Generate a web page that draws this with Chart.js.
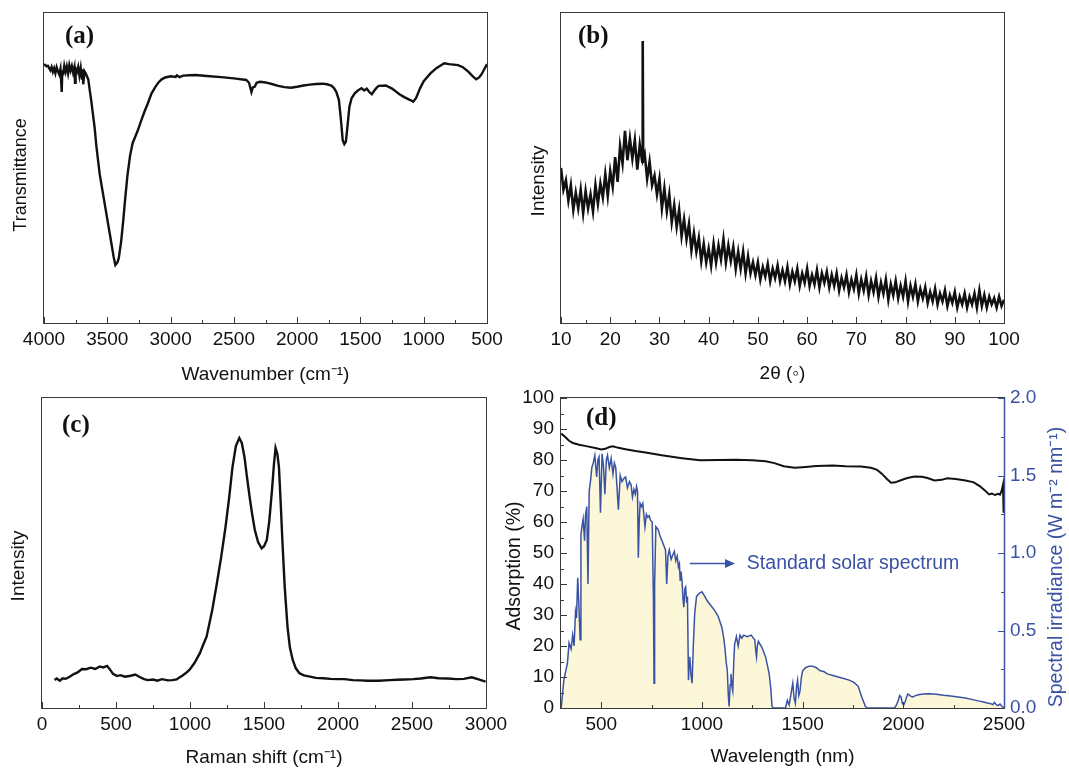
<!DOCTYPE html>
<html>
<head>
<meta charset="utf-8">
<title>FTIR / XRD / Raman / Absorption</title>
<script src="https://cdn.jsdelivr.net/npm/chart.js@4.4.1/dist/chart.umd.min.js"></script>
<style>
  html, body { margin: 0; padding: 0; background: #fff; }
  #wrap { position: relative; width: 1069px; height: 769px; }
  #wrap canvas { position: absolute; left: 0; top: 0; }
</style>
</head>
<body>
<div id="wrap">
  <canvas id="ftirChart" width="1069" height="769"></canvas>
  <canvas id="xrdChart" width="1069" height="769"></canvas>
  <canvas id="ramanChart" width="1069" height="769"></canvas>
  <canvas id="absChart" width="1069" height="769"></canvas>
</div>
<script>
// (a) FTIR
const ftirWavenumber = [
  4000, 3990, 3980, 3970, 3960, 3950, 3940, 3930, 3920, 3910,
  3900, 3890, 3880, 3870, 3860, 3855, 3850, 3840, 3830, 3820,
  3810, 3800, 3790, 3780, 3770, 3760, 3755, 3750, 3740, 3730,
  3720, 3710, 3700, 3695, 3690, 3680, 3670, 3660, 3650, 3640,
  3626, 3600, 3586, 3560, 3531, 3500, 3477, 3450, 3436, 3420,
  3409, 3390, 3374, 3360, 3341, 3320, 3300, 3280, 3260, 3230,
  3205, 3180, 3151, 3120, 3096, 3070, 3042, 3000, 2960, 2950,
  2930, 2900, 2850, 2800, 2715, 2600, 2500, 2402, 2380, 2361,
  2350, 2334, 2320, 2294, 2250, 2200, 2150, 2100, 2050, 2000,
  1950, 1900, 1850, 1800, 1764, 1730, 1709, 1690, 1670, 1655,
  1640, 1627, 1615, 1606, 1595, 1587, 1570, 1545, 1520, 1491,
  1470, 1450, 1430, 1410, 1390, 1370, 1355, 1300, 1250, 1192,
  1150, 1110, 1083, 1060, 1029, 1000, 947, 900, 838, 800,
  729, 690, 648, 610, 585, 560, 539, 520, 500
];
const ftirTransmittance = [
  83.5, 83.2, 82.8, 83, 82.3, 81.5, 82.6, 81, 82.2, 80.6,
  82.5, 81.2, 80.2, 82, 74.5, 81.5, 80, 83, 81, 82.8,
  80.5, 83.2, 81.4, 82.9, 80.8, 82.5, 77.5, 82, 81, 82.6,
  79.8, 82.3, 78.5, 81.8, 77, 81.2, 80.5, 79.5, 78.5, 75.5,
  71.5, 63, 57, 48, 41, 33.5, 28, 21.4, 18.7, 19.5,
  21, 26.5, 33, 39.5, 47.5, 54, 58, 60, 62, 65.5,
  68.3, 70.8, 74, 76.2, 77.6, 78.6, 79.2, 79.6, 79.4, 79.9,
  79.3, 79.8, 79.9, 80, 79.7, 79.3, 78.9, 78.4, 77.5, 74.5,
  76, 76.3, 77.5, 77.8, 77.6, 77.1, 76.5, 76.1, 75.9, 76.2,
  76.6, 76.9, 77.1, 77.2, 77.0, 76.6, 75.8, 74.5, 71.9, 66,
  59, 57.7, 58.5, 62, 66.5, 69.8, 72.5, 74.1, 75, 75.7,
  75, 75.6, 74.5, 73.8, 75, 76, 76.5, 76.6, 75.6, 73.8,
  72.8, 72, 71.4, 72.6, 75.7, 78, 80.5, 82.2, 83.8, 83.5,
  83.2, 82.5, 81.1, 79.5, 78.6, 79.3, 80.5, 82, 83.5
];
const ftirTicks = [4000, 3500, 3000, 2500, 2000, 1500, 1000, 500];
const ftirMinor = [3750, 3250, 2750, 2250, 1750, 1250, 750];

// (b) XRD
const xrdAngle = [
  10, 10.5, 11, 11.5, 12, 12.5, 13, 13.5, 14, 14.5,
  15, 15.5, 16, 16.5, 17, 17.5, 18, 18.5, 19, 19.5,
  20, 20.5, 21, 21.5, 22, 22.5, 23, 23.5, 24, 24.5,
  25, 25.5, 26, 26.5, 26.6, 26.7, 27, 27.5, 28, 28.5, 29, 29.5,
  30, 30.5, 31, 31.5, 32, 32.5, 33, 33.5, 34, 34.5,
  35, 35.5, 36, 36.5, 37, 37.5, 38, 38.5, 39, 39.5,
  40, 40.5, 41, 41.5, 42, 42.5, 43, 43.5, 44, 44.5,
  45, 45.5, 46, 46.5, 47, 47.5, 48, 48.5, 49, 49.5,
  50, 50.5, 51, 51.5, 52, 52.5, 53, 53.5, 54, 54.5,
  55, 55.5, 56, 56.5, 57, 57.5, 58, 58.5, 59, 59.5,
  60, 60.5, 61, 61.5, 62, 62.5, 63, 63.5, 64, 64.5,
  65, 65.5, 66, 66.5, 67, 67.5, 68, 68.5, 69, 69.5,
  70, 70.5, 71, 71.5, 72, 72.5, 73, 73.5, 74, 74.5,
  75, 75.5, 76, 76.5, 77, 77.5, 78, 78.5, 79, 79.5,
  80, 80.5, 81, 81.5, 82, 82.5, 83, 83.5, 84, 84.5,
  85, 85.5, 86, 86.5, 87, 87.5, 88, 88.5, 89, 89.5,
  90, 90.5, 91, 91.5, 92, 92.5, 93, 93.5, 94, 94.5,
  95, 95.5, 96, 96.5, 97, 97.5, 98, 98.5, 99, 99.5, 100
];
const xrdIntensity = [
  50, 43, 46, 39.5, 44.5, 36.5, 42, 37, 43, 35.5,
  42.5, 37, 41.5, 36, 44.5, 38.5, 45, 40.5, 48, 41,
  49, 44, 53.5, 45.5, 57, 51.5, 62, 52.5, 59.5, 53,
  59, 49.5, 57.5, 52, 91, 53, 54.5, 46.5, 52, 44.5, 47.5, 41.5,
  46.5, 37, 43.5, 36, 41.5, 32.5, 38, 31, 36.5, 28,
  33.5, 27, 32, 23.5, 29, 23, 27.5, 20, 25.5, 19.5,
  24, 18.5, 25.5, 19.5, 25, 20.5, 27, 19.5, 25, 20,
  24.5, 17.5, 23, 17.5, 23, 16, 21.5, 16, 19.5, 15.5,
  19.5, 14, 18, 15, 19, 13.5, 17.5, 14.5, 18.5, 13.5,
  17, 13.5, 18, 12.5, 16.5, 13.5, 17.5, 12, 16, 13,
  17.5, 12, 15.5, 12.5, 17, 11.5, 16, 13, 16.5, 11.5,
  15.5, 12, 16, 10.5, 14.5, 11.5, 15.5, 10, 14, 11,
  15.5, 9.5, 14, 10.5, 15, 9, 13.5, 10, 14.5, 8.5,
  13, 9.5, 14, 7.5, 12.5, 9, 13.5, 8, 12, 8.5,
  13.5, 7, 12, 8.5, 12.5, 7, 11, 8, 11.5, 6.5,
  10, 7, 11, 6, 9.5, 7, 10.5, 5.5, 9, 6.5,
  10, 5, 8.5, 6, 9.5, 5, 8.5, 6, 9.5, 5,
  10.5, 5.5, 9, 5, 8.5, 6, 8, 5, 8.5, 5.5, 7.5
];
const xrdTicks = [10, 20, 30, 40, 50, 60, 70, 80, 90, 100];
const xrdMinor = [15, 25, 35, 45, 55, 65, 75, 85, 95];

// (c) Raman
const ramanShift = [
  85, 100, 120, 140, 160, 184, 210, 240, 270, 298,
  330, 360, 390, 414, 440, 461, 480, 507, 530, 560,
  600, 630, 660, 690, 716, 750, 780, 810, 850, 880,
  910, 926, 950, 970, 996, 1030, 1066, 1090, 1112, 1150,
  1182, 1210, 1240, 1265, 1287, 1310, 1333, 1350, 1368, 1385,
  1403, 1420, 1438, 1460, 1484, 1500, 1519, 1535, 1554, 1567,
  1578, 1590, 1601, 1612, 1624, 1640, 1659, 1675, 1694, 1715,
  1740, 1770, 1811, 1850, 1900, 1950, 2000, 2043, 2100, 2150,
  2200, 2276, 2350, 2400, 2450, 2508, 2560, 2624, 2680, 2740,
  2800, 2850, 2904, 2950, 2997
];
const ramanIntensity = [
  9.0, 9.5, 8.8, 9.6, 9.4, 10.0, 10.8, 11.5, 12.6, 12.5,
  13.0, 12.6, 13.4, 13.1, 13.6, 12.3, 11.0, 10.3, 10.6, 10.1,
  10.4, 10.8, 10.0, 9.3, 9.0, 9.2, 8.8, 9.3, 8.9, 9.0,
  9.2, 9.8, 10.5, 11.2, 12.3, 14.5, 17.6, 20.5, 23.0, 31.5,
  40.3, 48.5, 58.4, 68, 77.7, 84.5, 87.1, 85.5, 81, 74.5,
  68, 62.5, 57.4, 53.5, 51.5, 52.2, 54.2, 60, 70.3, 78.5,
  83.9, 82, 77.7, 67, 54.2, 39, 26.1, 19.5, 15.5, 12.8,
  11.2, 10.5, 10.1, 9.7, 9.6, 9.4, 9.3, 9.3, 9.0, 8.9,
  8.8, 8.8, 9.0, 9.1, 9.2, 9.3, 9.5, 9.9, 9.6, 9.5,
  9.3, 9.4, 9.9, 9.2, 8.5
];
const ramanTicks = [0, 500, 1000, 1500, 2000, 2500, 3000];
const ramanMinor = [250, 750, 1250, 1750, 2250, 2750];

// (d) absorption + solar spectrum
const absWavelength = [
  301, 320, 340, 359, 390, 431, 470, 500, 520, 540,
  558, 580, 620, 670, 720, 800, 901, 991, 1080, 1171,
  1250, 1316, 1360, 1406, 1460, 1500, 1569, 1650, 1713, 1790,
  1839, 1870, 1893, 1920, 1939, 1960, 1984, 2020, 2056, 2092,
  2120, 2155, 2190, 2218, 2260, 2309, 2350, 2381, 2405, 2426,
  2440, 2455, 2471, 2480, 2489, 2495, 2498, 2500
];
const absAdsorption = [
  88.5, 87.5, 86.2, 85.5, 84.9, 84.4, 83.9, 83.4, 83.6, 84.2,
  84.4, 84.0, 83.5, 82.9, 82.4, 81.5, 80.6, 79.9, 80.0, 80.1,
  79.9, 79.6, 79.0, 78.0, 77.5, 77.7, 78.1, 78.2, 78.0, 77.9,
  77.5, 76.8, 75.6, 73.8, 72.7, 72.8, 73.4, 74.2, 74.7, 74.6,
  74.2, 73.4, 73.6, 74.1, 73.9, 73.4, 72.8, 71.5, 70.2, 68.9,
  69.2, 68.7, 69.1, 68.8, 70.2, 72.0, 63, 72.2
];
const solarWavelength = [
  301, 314, 332, 340, 350, 358, 365, 372, 377, 383,
  389, 395, 399, 405, 410, 417, 422, 428, 434, 440,
  447, 453, 460, 468, 477, 483, 489, 496, 504, 511,
  518, 525, 531, 540, 549, 558, 565, 572, 585, 594,
  603, 612, 621, 630, 640, 648, 655, 662, 669, 675,
  680, 684, 689, 693, 700, 706, 712, 717, 724, 731,
  738, 745, 753, 759, 762, 765, 771, 777, 783, 792,
  801, 810, 819, 825, 831, 838, 847, 856, 863, 870,
  877, 883, 888, 892, 896, 901, 906, 910, 915, 919,
  924, 928, 933, 937, 940, 945, 951, 957, 964, 973,
  987, 1000, 1014, 1027, 1045, 1063, 1081, 1099, 1107, 1114,
  1120, 1126, 1131, 1135, 1140, 1144, 1149, 1153, 1158, 1162,
  1171, 1180, 1189, 1198, 1207, 1225, 1244, 1262, 1268, 1271,
  1275, 1280, 1298, 1316, 1334, 1342, 1348, 1356, 1415, 1424,
  1433, 1442, 1451, 1458, 1464, 1470, 1475, 1481, 1487, 1494,
  1500, 1514, 1532, 1550, 1568, 1587, 1605, 1623, 1650, 1677,
  1704, 1731, 1755, 1776, 1794, 1812, 1821, 1957, 1966, 1975,
  1982, 1989, 1995, 2002, 2009, 2016, 2022, 2029, 2038, 2047,
  2060, 2074, 2100, 2128, 2164, 2200, 2236, 2272, 2308, 2345,
  2372, 2399, 2417, 2435, 2444, 2453, 2462, 2471, 2480, 2489,
  2500
];
const solarIrradiance = [
  0, 0.18, 0.29, 0.42, 0.38, 0.47, 0.40, 0.62, 0.58, 0.84,
  0.66, 0.44, 1.12, 1.18, 1.22, 1.08, 1.25, 1.30, 0.80, 1.40,
  1.47, 1.55, 1.58, 1.63, 1.49, 1.60, 1.62, 1.26, 1.64, 1.56,
  1.38, 1.60, 1.63, 1.55, 1.61, 1.51, 1.58, 1.55, 1.28, 1.50,
  1.46, 1.48, 1.49, 1.42, 1.46, 1.44, 1.36, 1.41, 1.38, 1.43,
  1.40, 0.97, 1.22, 1.32, 1.30, 1.32, 1.24, 1.17, 1.25, 1.23,
  1.24, 1.21, 1.20, 0.70, 0.16, 0.80, 1.17, 1.16, 1.15, 1.11,
  1.08, 1.05, 1.02, 0.80, 0.98, 1.02, 0.96, 0.99, 1.01, 0.95,
  0.98, 0.91, 0.93, 0.82, 0.88, 0.82, 0.70, 0.65, 0.77, 0.78,
  0.68, 0.72, 0.18, 0.30, 0.33, 0.22, 0.16, 0.40, 0.61, 0.72,
  0.74, 0.75, 0.72, 0.69, 0.66, 0.63, 0.59, 0.52, 0.46, 0.39,
  0.30, 0.24, 0.08, 0.01, 0.15, 0.22, 0.14, 0.11, 0.30, 0.41,
  0.46, 0.40, 0.47, 0.45, 0.47, 0.46, 0.47, 0.44, 0.36, 0.33,
  0.40, 0.43, 0.39, 0.33, 0.22, 0.12, 0.01, 0, 0, 0.05,
  0.02, 0.09, 0.16, 0.06, 0.03, 0.14, 0.18, 0.08, 0.11, 0.20,
  0.24, 0.26, 0.27, 0.27, 0.26, 0.24, 0.235, 0.22, 0.21, 0.20,
  0.19, 0.18, 0.165, 0.14, 0.07, 0.01, 0, 0, 0.02, 0.05,
  0.08, 0.07, 0.03, 0.02, 0.04, 0.07, 0.09, 0.085, 0.075, 0.072,
  0.08, 0.086, 0.09, 0.092, 0.088, 0.082, 0.078, 0.071, 0.064, 0.054,
  0.046, 0.039, 0.032, 0.028, 0.022, 0.036, 0.02, 0.017, 0.025, 0.011,
  0
];
const wlTicks = [500, 1000, 1500, 2000, 2500];
const wlMinor = [750, 1250, 1750, 2250];
const absTicks = [0, 10, 20, 30, 40, 50, 60, 70, 80, 90, 100];
const absMinor = [5, 15, 25, 35, 45, 55, 65, 75, 85, 95];
const irrTicks = [0, 0.5, 1.0, 1.5, 2.0];
const irrMinor = [0.25, 0.75, 1.25, 1.75];

const ink = '#111111';
const blue = '#3a52a4';
const frameColor = '#3a3a3a';
const sansFont = '"Liberation Sans", Arial, sans-serif';

Chart.defaults.font.family = sansFont;
Chart.defaults.font.size = 19;
Chart.defaults.color = ink;
Chart.defaults.animation = false;

function pairs(xs, ys) {
    return xs.map((x, i) => ({ x: x, y: ys[i] }));
}

// frame, inward ticks, rotated y titles, panel letter and arrow note
const panelDecor = {
    id: 'panelDecor',
    afterDraw(chart, args, opts) {
        const ctx = chart.ctx;
        const a = chart.chartArea;
        ctx.save();

        (opts.marks || []).forEach(m => {
            const s = chart.scales[m.axis];
            ctx.strokeStyle = m.color;
            ctx.lineWidth = 1;
            const mark = (v, len) => {
                const p = Math.round(s.getPixelForValue(v)) + 0.5;
                ctx.beginPath();
                if (s.isHorizontal()) {
                    ctx.moveTo(p, a.bottom); ctx.lineTo(p, a.bottom - len);
                } else if (s.position === 'left') {
                    ctx.moveTo(a.left, p); ctx.lineTo(a.left + len, p);
                } else {
                    ctx.moveTo(a.right, p); ctx.lineTo(a.right - len, p);
                }
                ctx.stroke();
            };
            m.major.forEach(v => mark(v, 6));
            m.minor.forEach(v => mark(v, 3));
        });

        ctx.strokeStyle = frameColor;
        ctx.lineWidth = 1;
        ctx.strokeRect(a.left - 0.5, a.top - 0.5, a.right - a.left + 1, a.bottom - a.top + 1);
        if (opts.rightColor) {
            ctx.strokeStyle = opts.rightColor;
            ctx.lineWidth = 1.5;
            ctx.beginPath();
            ctx.moveTo(a.right + 0.5, a.top - 0.5);
            ctx.lineTo(a.right + 0.5, a.bottom + 0.5);
            ctx.stroke();
        }

        (opts.yTitles || []).forEach(t => {
            ctx.save();
            ctx.translate(t.x, (a.top + a.bottom) / 2 + t.dy);
            ctx.rotate(-Math.PI / 2);
            ctx.fillStyle = t.color || ink;
            ctx.font = (t.size || 19) + 'px ' + sansFont;
            ctx.textAlign = 'center';
            ctx.textBaseline = 'middle';
            ctx.fillText(t.text, 0, 0);
            ctx.restore();
        });

        if (opts.letter) {
            ctx.fillStyle = ink;
            ctx.font = 'bold 25px "Liberation Serif", "Times New Roman", serif';
            ctx.textAlign = 'left';
            ctx.textBaseline = 'middle';
            ctx.fillText(opts.letter.text, a.left + opts.letter.dx, a.top + opts.letter.dy);
        }

        if (opts.note) {
            const n = opts.note;
            const xs = chart.scales.x;
            const ys = chart.scales[n.axis];
            const y = Math.round(ys.getPixelForValue(n.level)) + 0.5;
            const x1 = xs.getPixelForValue(n.from);
            const x2 = xs.getPixelForValue(n.to);
            ctx.strokeStyle = n.color;
            ctx.fillStyle = n.color;
            ctx.lineWidth = 1.5;
            ctx.beginPath();
            ctx.moveTo(x1, y); ctx.lineTo(x2 - 8, y);
            ctx.stroke();
            ctx.beginPath();
            ctx.moveTo(x2, y); ctx.lineTo(x2 - 10, y - 4.5); ctx.lineTo(x2 - 10, y + 4.5);
            ctx.closePath();
            ctx.fill();
            ctx.font = '19.5px ' + sansFont;
            ctx.textAlign = 'left';
            ctx.textBaseline = 'middle';
            ctx.fillText(n.text, xs.getPixelForValue(n.textAt), y);
        }
        ctx.restore();
    }
};

function xAxis(min, max, tickList, title, opts) {
    return {
        type: 'linear', position: 'bottom', min: min, max: max,
        reverse: !!opts.reverse,
        grid: { display: false, drawTicks: false },
        border: { display: false },
        afterBuildTicks: s => { s.ticks = tickList.map(v => ({ value: v })); },
        ticks: { color: ink, padding: 5, maxRotation: 0, autoSkip: false, callback: v => String(v) },
        title: { display: true, text: title, color: ink, padding: { top: 0, bottom: opts.titlePad } },
        afterFit: s => { s.height = opts.height; }
    };
}

function hiddenY(width) {
    return {
        type: 'linear', position: 'left', min: 0, max: 100,
        grid: { display: false, drawTicks: false },
        border: { display: false },
        ticks: { display: false },
        afterFit: s => { s.width = width; }
    };
}

function lineSet(xs, ys, width) {
    return {
        data: pairs(xs, ys),
        borderColor: ink,
        borderWidth: width,
        pointRadius: 0,
        fill: false
    };
}

// (a)
new Chart(document.getElementById('ftirChart'), {
    type: 'line',
    data: { datasets: [lineSet(ftirWavenumber, ftirTransmittance, 2.4)] },
    options: {
        responsive: false,
        layout: { autoPadding: false, padding: { left: 0, top: 13, right: 582, bottom: 376 } },
        scales: {
            x: xAxis(500, 4000, ftirTicks, 'Wavenumber (cm\u207B\u00B9)', { reverse: true, titlePad: 7, height: 70 }),
            y: hiddenY(44)
        },
        plugins: {
            legend: { display: false },
            tooltip: { enabled: false },
            panelDecor: {
                marks: [{ axis: 'x', major: ftirTicks, minor: ftirMinor, color: frameColor }],
                yTitles: [{ text: 'Transmittance', x: 21, dy: 7, size: 18 }],
                letter: { text: '(a)', dx: 21, dy: 24 }
            }
        }
    },
    plugins: [panelDecor]
});

// (b)
new Chart(document.getElementById('xrdChart'), {
    type: 'line',
    data: { datasets: [lineSet(xrdAngle, xrdIntensity, 2.6)] },
    options: {
        responsive: false,
        layout: { autoPadding: false, padding: { left: 521, top: 13, right: 65, bottom: 376 } },
        scales: {
            x: xAxis(10, 100, xrdTicks, '2\u03B8 (\u25E6)', { titlePad: 8, height: 70 }),
            y: hiddenY(40)
        },
        plugins: {
            legend: { display: false },
            tooltip: { enabled: false },
            panelDecor: {
                marks: [{ axis: 'x', major: xrdTicks, minor: xrdMinor, color: frameColor }],
                yTitles: [{ text: 'Intensity', x: 539, dy: 13 }],
                letter: { text: '(b)', dx: 17, dy: 24 }
            }
        }
    },
    plugins: [panelDecor]
});

// (c)
new Chart(document.getElementById('ramanChart'), {
    type: 'line',
    data: { datasets: [lineSet(ramanShift, ramanIntensity, 2.4)] },
    options: {
        responsive: false,
        layout: { autoPadding: false, padding: { left: 0, top: 398, right: 583, bottom: 0 } },
        scales: {
            x: xAxis(0, 3000, ramanTicks, 'Raman shift (cm\u207B\u00B9)', { titlePad: 0, height: 61 }),
            y: hiddenY(42)
        },
        plugins: {
            legend: { display: false },
            tooltip: { enabled: false },
            panelDecor: {
                marks: [{ axis: 'x', major: ramanTicks, minor: ramanMinor, color: frameColor }],
                yTitles: [{ text: 'Intensity', x: 19, dy: 13 }],
                letter: { text: '(c)', dx: 20, dy: 28 }
            }
        }
    },
    plugins: [panelDecor]
});

// (d)
new Chart(document.getElementById('absChart'), {
    type: 'line',
    data: {
        datasets: [
            {
                label: 'Adsorption',
                data: pairs(absWavelength, absAdsorption),
                yAxisID: 'y',
                borderColor: ink,
                borderWidth: 2,
                pointRadius: 0,
                fill: false
            },
            {
                label: 'Standard solar spectrum',
                data: pairs(solarWavelength, solarIrradiance),
                yAxisID: 'y2',
                borderColor: blue,
                borderWidth: 1.5,
                backgroundColor: '#fcf7d8',
                pointRadius: 0,
                fill: 'origin'
            }
        ]
    },
    options: {
        responsive: false,
        layout: { autoPadding: false, padding: { left: 501, top: 398, right: 0, bottom: 0 } },
        scales: {
            x: xAxis(300, 2500, wlTicks, 'Wavelength (nm)', { titlePad: 1, height: 61 }),
            y: {
                type: 'linear', position: 'left', min: 0, max: 100,
                grid: { display: false, drawTicks: false },
                border: { display: false },
                afterBuildTicks: s => { s.ticks = absTicks.map(v => ({ value: v })); },
                ticks: { color: ink, padding: 7, autoSkip: false, callback: v => String(v) },
                afterFit: s => { s.width = 60; }
            },
            y2: {
                type: 'linear', position: 'right', min: 0, max: 2,
                grid: { display: false, drawTicks: false },
                border: { display: false },
                afterBuildTicks: s => { s.ticks = irrTicks.map(v => ({ value: v })); },
                ticks: { color: blue, padding: 6, autoSkip: false, callback: v => v.toFixed(1) },
                afterFit: s => { s.width = 65; }
            }
        },
        plugins: {
            legend: { display: false },
            tooltip: { enabled: false },
            panelDecor: {
                marks: [
                    { axis: 'x', major: wlTicks, minor: wlMinor, color: frameColor },
                    { axis: 'y', major: absTicks, minor: absMinor, color: frameColor },
                    { axis: 'y2', major: irrTicks, minor: irrMinor, color: blue }
                ],
                rightColor: blue,
                yTitles: [
                    { text: 'Adsorption (%)', x: 515, dy: 13, size: 19.5 },
                    { text: 'Spectral irradiance (W m\u207B\u00B2 nm\u207B\u00B9)', x: 1057, dy: 14, color: blue, size: 19.5 }
                ],
                letter: { text: '(d)', dx: 25, dy: 21 },
                note: {
                    axis: 'y2', level: 0.935, from: 940, to: 1164, textAt: 1223,
                    text: 'Standard solar spectrum', color: blue
                }
            }
        }
    },
    plugins: [panelDecor]
});
</script>
</body>
</html>
